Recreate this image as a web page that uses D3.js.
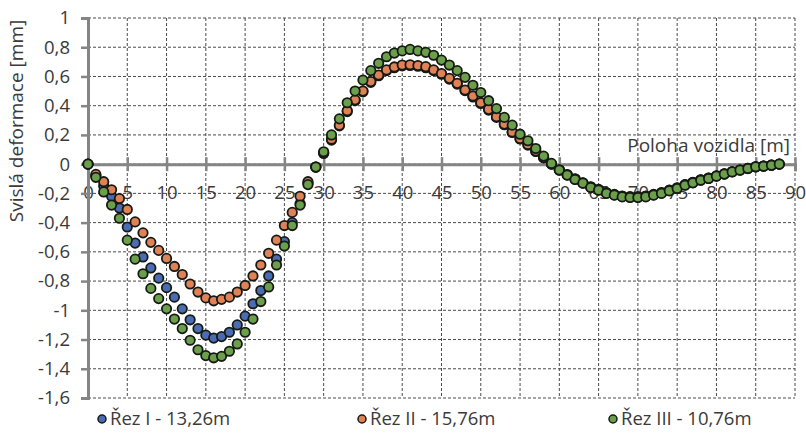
<!DOCTYPE html>
<html>
<head>
<meta charset="utf-8">
<title>Svislá deformace</title>
<style>
    body { margin: 0; background: #ffffff; }
    svg text { font-family: "Open Sans", Lato, sans-serif; fill: #3a3a3a; }
    .grid line { stroke: #4a4a4a; stroke-width: 1; stroke-dasharray: 3,2; }
    .axis path, .axis line { stroke: #858585; }
</style>
<script src="https://cdn.jsdelivr.net/npm/d3@7"></script>
</head>
<body>
<div id="chart"></div>
<script>
// poloha vozidla [m]
var positions = [
    0, 1, 2, 3, 4, 5, 6, 7, 8, 9,
    10, 11, 12, 13, 14, 15, 16, 17, 18, 19,
    20, 21, 22, 23, 24, 25, 26, 27, 28, 29,
    30, 31, 32, 33, 34, 35, 36, 37, 38, 39,
    40, 41, 42, 43, 44, 45, 46, 47, 48, 49,
    50, 51, 52, 53, 54, 55, 56, 57, 58, 59,
    60, 61, 62, 63, 64, 65, 66, 67, 68, 69,
    70, 71, 72, 73, 74, 75, 76, 77, 78, 79,
    80, 81, 82, 83, 84, 85, 86, 87, 88
];

// Řez I - 13,26m
var rezI = [
    0, -0.08, -0.15, -0.22, -0.30, -0.43, -0.54, -0.635, -0.71, -0.78,
    -0.845, -0.91, -0.99, -1.065, -1.125, -1.17, -1.19, -1.18, -1.15, -1.10,
    -1.04, -0.955, -0.865, -0.765, -0.65, -0.53, -0.40, -0.27, -0.13, -0.02,
    0.075, 0.165, 0.262, 0.36, 0.435, 0.495, 0.56, 0.605, 0.64, 0.66,
    0.673, 0.675, 0.67, 0.66, 0.64, 0.615, 0.582, 0.548, 0.503, 0.46,
    0.415, 0.37, 0.32, 0.27, 0.217, 0.172, 0.13, 0.087, 0.043, 0.0,
    -0.04, -0.073, -0.102, -0.129, -0.157, -0.175, -0.197, -0.21, -0.22, -0.225,
    -0.225, -0.22, -0.21, -0.197, -0.18, -0.164, -0.142, -0.126, -0.108, -0.096,
    -0.081, -0.067, -0.052, -0.04, -0.029, -0.018, -0.013, -0.007, 0
];

// Řez II - 15,76m
var rezII = [
    0, -0.07, -0.12, -0.175, -0.235, -0.31, -0.395, -0.47, -0.535, -0.59,
    -0.645, -0.70, -0.755, -0.82, -0.875, -0.915, -0.935, -0.925, -0.91, -0.875,
    -0.83, -0.765, -0.69, -0.61, -0.52, -0.42, -0.33, -0.22, -0.12, -0.02,
    0.075, 0.17, 0.267, 0.365, 0.44, 0.50, 0.565, 0.61, 0.645, 0.665,
    0.678, 0.68, 0.675, 0.667, 0.645, 0.62, 0.587, 0.553, 0.507, 0.466,
    0.42, 0.375, 0.325, 0.274, 0.22, 0.176, 0.135, 0.09, 0.045, 0.0,
    -0.04, -0.072, -0.1, -0.128, -0.155, -0.173, -0.195, -0.207, -0.218, -0.222,
    -0.222, -0.218, -0.207, -0.195, -0.178, -0.162, -0.14, -0.124, -0.107, -0.095,
    -0.08, -0.066, -0.052, -0.04, -0.029, -0.018, -0.013, -0.007, 0
];

// Řez III - 10,76m
var rezIII = [
    0, -0.09, -0.19, -0.28, -0.37, -0.52, -0.65, -0.75, -0.85, -0.92,
    -0.99, -1.06, -1.125, -1.205, -1.27, -1.31, -1.325, -1.315, -1.28, -1.23,
    -1.15, -1.06, -0.94, -0.84, -0.69, -0.56, -0.42, -0.28, -0.14, -0.02,
    0.085, 0.2, 0.31, 0.42, 0.5, 0.575, 0.64, 0.69, 0.735, 0.76,
    0.775, 0.785, 0.775, 0.765, 0.745, 0.712, 0.678, 0.64, 0.594, 0.54,
    0.49, 0.434, 0.38, 0.32, 0.267, 0.205, 0.16, 0.107, 0.055, 0.005,
    -0.04, -0.075, -0.105, -0.13, -0.16, -0.178, -0.2, -0.212, -0.224, -0.228,
    -0.228, -0.224, -0.212, -0.2, -0.183, -0.167, -0.144, -0.128, -0.11, -0.098,
    -0.082, -0.068, -0.053, -0.041, -0.03, -0.018, -0.014, -0.007, 0
];

var seriesNames = ["Řez I - 13,26m", "Řez II - 15,76m", "Řez III - 10,76m"];
var seriesColors = ["#4b6bb3", "#e08256", "#6c9f4c"];

var xTicks = [0, 5, 10, 15, 20, 25, 30, 35, 40, 45, 50, 55, 60, 65, 70, 75, 80, 85, 90];
var yTicks = [1, 0.8, 0.6, 0.4, 0.2, 0, -0.2, -0.4, -0.6, -0.8, -1, -1.2, -1.4, -1.6];

var width = 806, height = 436;
var plot = { left: 88, right: 795, top: 18, bottom: 398 };

var czech = d3.formatLocale({ decimal: ",", thousands: " ", grouping: [3], currency: ["", " Kč"], minus: "-" });
var fmt = czech.format("~g");

var x = d3.scaleLinear().domain([0, 90]).range([plot.left, plot.right]);
var y = d3.scaleLinear().domain([-1.6, 1]).range([plot.bottom, plot.top]);

var svg = d3.select("#chart")
    .append("svg")
    .attr("width", width)
    .attr("height", height);

svg.append("rect")
    .attr("width", width)
    .attr("height", height)
    .attr("fill", "#ffffff");

// mrizka
var grid = svg.append("g").attr("class", "grid");

grid.selectAll("line.v")
    .data(xTicks.filter(function(d) { return d > 0; }))
    .enter()
    .append("line")
    .attr("class", "v")
    .attr("x1", function(d) { return x(d); })
    .attr("x2", function(d) { return x(d); })
    .attr("y1", y(1))
    .attr("y2", y(-1.6));

grid.selectAll("line.h")
    .data(yTicks)
    .enter()
    .append("line")
    .attr("class", "h")
    .attr("x1", x(0))
    .attr("x2", x(90))
    .attr("y1", function(d) { return y(d); })
    .attr("y2", function(d) { return y(d); });

// osa x v nule
var xAxis = svg.append("g")
    .attr("class", "axis")
    .attr("transform", "translate(0," + y(0) + ")")
    .call(d3.axisBottom(x).tickValues(xTicks).tickFormat(fmt).tickSize(7).tickPadding(15));

xAxis.select(".domain").attr("stroke-width", 3);
xAxis.selectAll(".tick line").attr("y1", -7).attr("stroke-width", 2.5);
xAxis.selectAll(".tick text")
    .style("font-size", "18.5px")
    .style("fill", "#3a3a3a");

// osa y
var yAxis = svg.append("g")
    .attr("class", "axis")
    .attr("transform", "translate(" + plot.left + ",0)")
    .call(d3.axisLeft(y).tickValues(yTicks).tickFormat(fmt).tickSize(7).tickPadding(11));

yAxis.select(".domain").attr("stroke-width", 3);
yAxis.selectAll(".tick line").attr("stroke-width", 2.5);
yAxis.selectAll(".tick text")
    .style("font-size", "18.5px")
    .style("fill", "#3a3a3a");

// body
var allSeries = [rezI, rezII, rezIII];

allSeries.forEach(function(values, s)
{
    svg.append("g")
        .selectAll("circle")
        .data(values)
        .enter()
        .append("circle")
        .attr("cx", function(d, i) { return x(positions[i]); })
        .attr("cy", function(d) { return y(d); })
        .attr("r", 4.7)
        .attr("fill", seriesColors[s])
        .attr("stroke", "#161a14")
        .attr("stroke-width", 1.8);
});

// popisky os
svg.append("text")
    .attr("transform", "translate(16,121) rotate(-90)")
    .attr("text-anchor", "middle")
    .attr("dy", "0.35em")
    .style("font-size", "19px")
    .text("Svislá deformace [mm]");

svg.append("text")
    .attr("x", 790)
    .attr("y", 152)
    .attr("text-anchor", "end")
    .style("font-size", "19px")
    .text("Poloha vozidla [m]");

// legenda
var legendX = [102, 362, 613];

var legend = svg.append("g")
    .selectAll("g")
    .data(seriesNames)
    .enter()
    .append("g")
    .attr("transform", function(d, i) { return "translate(" + legendX[i] + ",419)"; });

legend.append("circle")
    .attr("r", 4)
    .attr("fill", function(d, i) { return seriesColors[i]; })
    .attr("stroke", "#161a14")
    .attr("stroke-width", 1.5);

legend.append("text")
    .attr("x", 8)
    .attr("dy", "0.35em")
    .style("font-size", "18.5px")
    .text(function(d) { return d; });
</script>
</body>
</html>
